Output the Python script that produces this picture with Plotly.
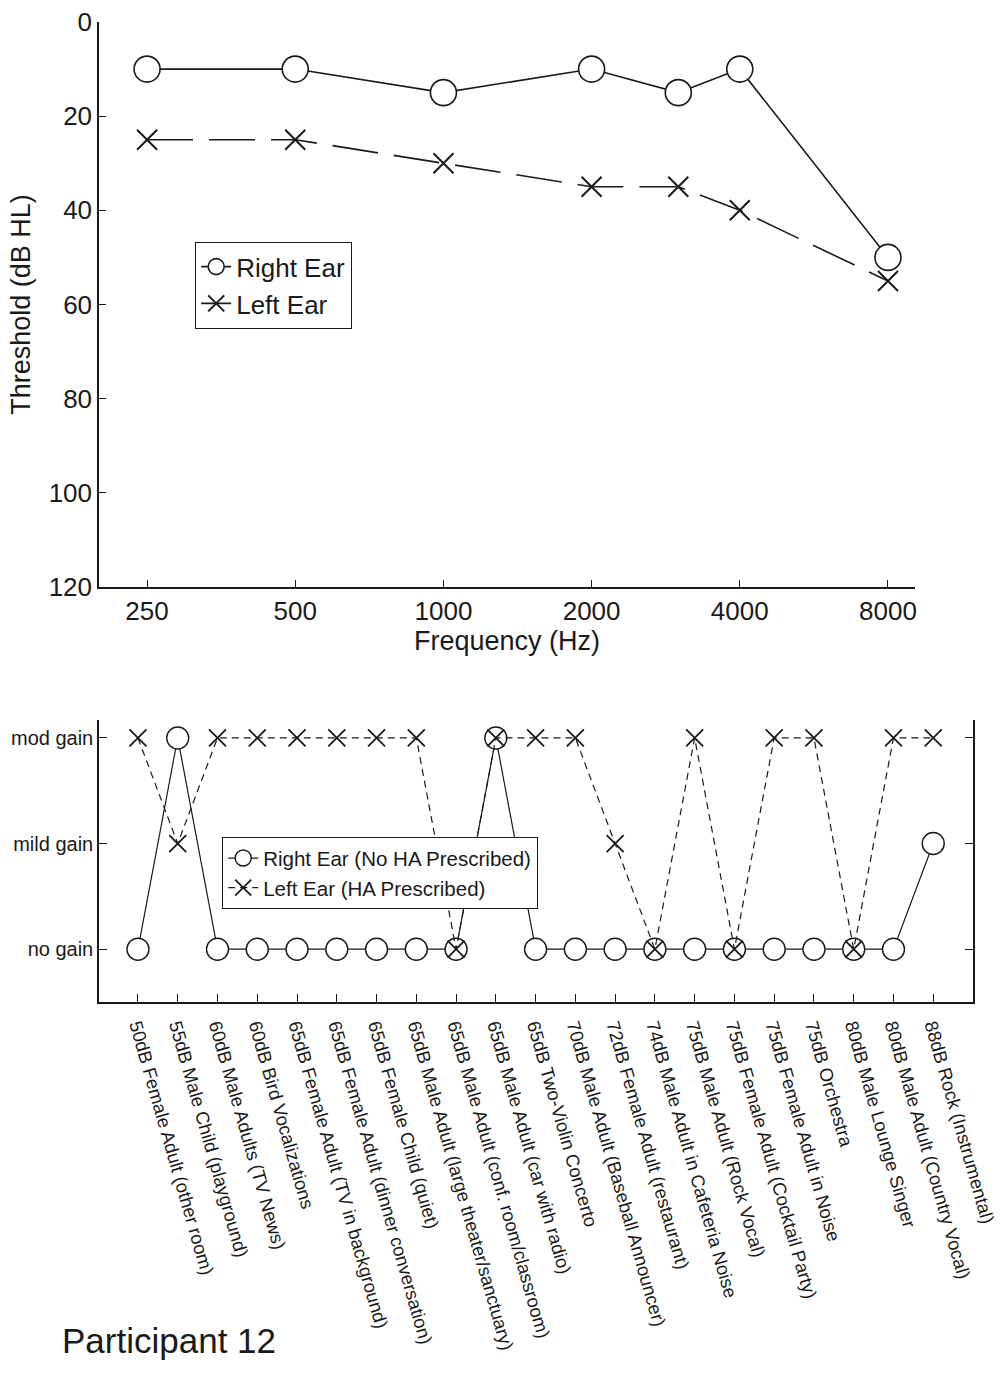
import plotly.graph_objects as go

# ---- Top chart data (audiogram) ----
freqs = [250, 500, 1000, 2000, 3000, 4000, 8000]
right_ear_db = [10, 10, 15, 10, 15, 10, 50]
left_ear_db = [25, 25, 30, 35, 35, 40, 55]
freq_ticks = [250, 500, 1000, 2000, 4000, 8000]
db_ticks = [0, 20, 40, 60, 80, 100, 120]

# ---- Bottom chart data ----
sounds = [
    "50dB Female Adult (other room)",
    "55dB Male Child (playground)",
    "60dB Male Adults (TV News)",
    "60dB Bird Vocalizations",
    "65dB Female Adult (TV in background)",
    "65dB Female Adult (dinner conversation)",
    "65dB Female Child (quiet)",
    "65dB Male Adult (large theater/sanctuary)",
    "65dB Male Adult (conf. room/classroom)",
    "65dB Male Adult (car with radio)",
    "65dB Two-Violin Concerto",
    "70dB Male Adult (Baseball Announcer)",
    "72dB Female Adult (restaurant)",
    "74dB Male Adult in Cafeteria Noise",
    "75dB Male Adult (Rock Vocal)",
    "75dB Female Adult (Cocktail Party)",
    "75dB Female Adult in Noise",
    "75dB Orchestra",
    "80dB Male Lounge Singer",
    "80dB Male Adult (Country Vocal)",
    "88dB Rock (Instrumental)",
]
gain_levels = ["no gain", "mild gain", "mod gain"]
right_gain = ["no gain", "mod gain", "no gain", "no gain", "no gain", "no gain", "no gain",
              "no gain", "no gain", "mod gain", "no gain", "no gain", "no gain", "no gain",
              "no gain", "no gain", "no gain", "no gain", "no gain", "no gain", "mild gain"]
left_gain = ["mod gain", "mild gain", "mod gain", "mod gain", "mod gain", "mod gain", "mod gain",
             "mod gain", "no gain", "mod gain", "mod gain", "mod gain", "mild gain", "no gain",
             "mod gain", "no gain", "mod gain", "mod gain", "no gain", "mod gain", "mod gain"]

W, H = 1001, 1379
FONT = "Liberation Sans, Arial, Helvetica, sans-serif"
INK = "#1a1a1a"

def px_x(p):
    return p / W

def px_y(p):
    return 1 - p / H

fig = go.Figure()

fig.add_trace(go.Scatter(
    x=freqs, y=right_ear_db, name="Right Ear", mode="lines+markers",
    line=dict(color=INK, width=1.6),
    marker=dict(symbol="circle", size=26, color="white", line=dict(color=INK, width=1.6)),
    xaxis="x", yaxis="y", legend="legend",
))
fig.add_trace(go.Scatter(
    x=freqs, y=left_ear_db, name="Left Ear", mode="lines+markers",
    line=dict(color=INK, width=1.6, dash="46px,16px"),
    marker=dict(symbol="x-thin", size=20, color=INK, line=dict(color=INK, width=2)),
    xaxis="x", yaxis="y", legend="legend",
))

fig.add_trace(go.Scatter(
    x=sounds, y=right_gain, name="Right Ear (No HA Prescribed)", mode="lines+markers",
    line=dict(color=INK, width=1.2),
    marker=dict(symbol="circle", size=22, color="white", line=dict(color=INK, width=1.4)),
    xaxis="x2", yaxis="y2", legend="legend2",
))
fig.add_trace(go.Scatter(
    x=sounds, y=left_gain, name="Left Ear (HA Prescribed)", mode="lines+markers",
    line=dict(color=INK, width=1.2, dash="7px,5px"),
    marker=dict(symbol="x-thin", size=17, color=INK, line=dict(color=INK, width=1.8)),
    xaxis="x2", yaxis="y2", legend="legend2",
))

axis_common = dict(showgrid=False, zeroline=False, showline=True, linecolor=INK, linewidth=1.5,
                   ticks="inside", tickcolor=INK, tickwidth=1.2, color=INK, automargin=False)

fig.update_layout(
    width=W, height=H,
    margin=dict(l=0, r=0, t=0, b=0),
    paper_bgcolor="white", plot_bgcolor="white",
    font=dict(family=FONT, color=INK),
    xaxis=dict(**axis_common, type="log", domain=[px_x(99), px_x(915)],
               range=[2.3003, 3.958], tickvals=freq_ticks, ticktext=[str(f) for f in freq_ticks],
               ticklen=7, tickfont=dict(size=26), anchor="y",
               title=dict(text="Frequency (Hz)", font=dict(size=27), standoff=4)),
    yaxis=dict(**axis_common, domain=[px_y(587), px_y(22)], range=[120, 0],
               tickvals=db_ticks, ticklen=7, tickfont=dict(size=26), anchor="x",
               title=dict(text="Threshold (dB HL)", font=dict(size=27), standoff=10)),
    xaxis2=dict(**axis_common, domain=[px_x(99), px_x(973)], type="category",
                range=[-0.98, 21.0], ticklen=8, tickangle=74, tickfont=dict(size=18.5),
                ticklabelstandoff=4, anchor="y2"),
    yaxis2=dict(**axis_common, domain=[px_y(1002), px_y(720)], type="category",
                categoryorder="array", categoryarray=gain_levels, range=[-0.5, 2.17],
                ticklen=8, tickfont=dict(size=20), mirror="ticks", anchor="x2"),
    legend=dict(x=px_x(195), y=px_y(242), xanchor="left", yanchor="top",
                bgcolor="white", bordercolor=INK, borderwidth=1.2,
                font=dict(size=26, color=INK), itemwidth=30, tracegroupgap=0),
    legend2=dict(x=px_x(222), y=px_y(837), xanchor="left", yanchor="top",
                 bgcolor="white", bordercolor=INK, borderwidth=1.2,
                 font=dict(size=20.5, color=INK), itemwidth=30, tracegroupgap=0),
    annotations=[dict(text="Participant 12", x=px_x(60), y=px_y(1340), xref="paper", yref="paper",
                      xanchor="left", yanchor="middle", showarrow=False,
                      font=dict(size=35, color=INK, family=FONT))],
)

fig.write_html("out.html")
